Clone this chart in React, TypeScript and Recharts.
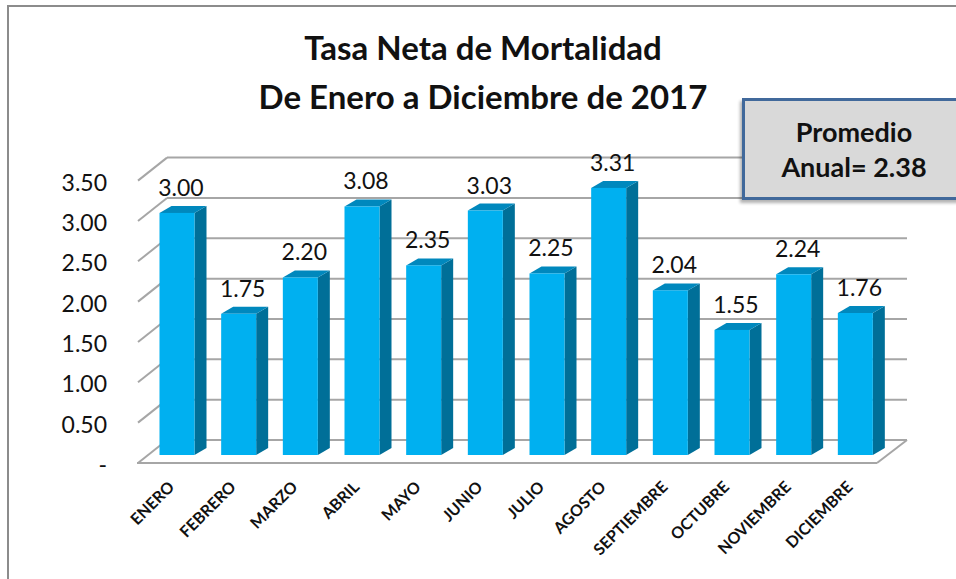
import React from "react";
import { Bar, BarChart, CartesianGrid, LabelList, XAxis, YAxis } from "recharts";

const months = [
  "ENERO", "FEBRERO", "MARZO", "ABRIL", "MAYO", "JUNIO",
  "JULIO", "AGOSTO", "SEPTIEMBRE", "OCTUBRE", "NOVIEMBRE", "DICIEMBRE",
];
const tasa = [3.0, 1.75, 2.2, 3.08, 2.35, 3.03, 2.25, 3.31, 2.04, 1.55, 2.24, 1.76];
const yTicks = [0, 0.5, 1, 1.5, 2, 2.5, 3, 3.5];
const titleLines = ["Tasa Neta de Mortalidad", "De Enero a Diciembre de 2017"];
const promedio = 2.38;

const data = months.map((mes, i) => ({ mes, tasa: tasa[i] }));

const FONT = "Lato, 'Open Sans', sans-serif";
const W = 956;
const H = 579;
const PLOT_BOTTOM = 455;

// fake 3d offsets
const BACK_DX = 20.5;
const BACK_DY = -15;
const FRONT_DX = -8.5;
const FRONT_DY = 8;
const DEPTH_X = 12;
const DEPTH_Y = -7;

const GRID = "#a6a6a6";

function Bar3D(props: any) {
  const { x, y, width, height } = props;
  if (height == null || width == null) return null;
  const r = x + width;
  const b = y + height;
  return (
    <g>
      <polygon
        points={`${r},${y} ${r + DEPTH_X},${y + DEPTH_Y} ${r + DEPTH_X},${b + DEPTH_Y} ${r},${b}`}
        fill="#006f98"
      />
      <polygon
        points={`${x},${y} ${x + DEPTH_X},${y + DEPTH_Y} ${r + DEPTH_X},${y + DEPTH_Y} ${r},${y}`}
        fill="#0088bd"
      />
      <rect x={x} y={y} width={width} height={height} fill="#00b0f0" />
    </g>
  );
}

function GridLine(props: any) {
  const { x1, x2, y1 } = props;
  const bx1 = x1 + BACK_DX;
  const bx2 = x2 + BACK_DX;
  const by = y1 + BACK_DY;
  const isFloor = Math.abs(y1 - PLOT_BOTTOM) < 1;
  return (
    <g key={props.key}>
      <line x1={bx1} y1={by} x2={bx2} y2={by} stroke={GRID} strokeWidth={2} />
      <line x1={bx1} y1={by} x2={x1 + FRONT_DX} y2={y1 + FRONT_DY} stroke={GRID} strokeWidth={2} />
      {isFloor && (
        <>
          <line
            x1={x1 + FRONT_DX - 1}
            y1={y1 + FRONT_DY}
            x2={x2 + FRONT_DX - 1}
            y2={y1 + FRONT_DY}
            stroke={GRID}
            strokeWidth={2}
          />
          <line
            x1={x2 + FRONT_DX - 1}
            y1={y1 + FRONT_DY}
            x2={bx2}
            y2={by}
            stroke={GRID}
            strokeWidth={2}
          />
        </>
      )}
    </g>
  );
}

function YTick(props: any) {
  const { y, payload } = props;
  const v = payload.value as number;
  return (
    <text
      x={107}
      y={y + 9}
      textAnchor="end"
      dominantBaseline="central"
      fontFamily={FONT}
      fontSize={23}
      fill="#111"
    >
      {v === 0 ? "-" : v.toFixed(2)}
    </text>
  );
}

function XTick(props: any) {
  const { x, payload } = props;
  const tx = x - 2;
  const ty = 488;
  return (
    <text
      x={tx}
      y={ty}
      textAnchor="end"
      transform={`rotate(-45 ${tx} ${ty})`}
      fontFamily={FONT}
      fontSize={16}
      fontWeight={700}
      fill="#111"
    >
      {payload.value}
    </text>
  );
}

function ValueLabel(props: any) {
  const { x, y, width, value } = props;
  return (
    <text
      x={x + width / 2 + 4}
      y={y - 26}
      textAnchor="middle"
      dominantBaseline="central"
      fontFamily={FONT}
      fontSize={23}
      fill="#111"
    >
      {Number(value).toFixed(2)}
    </text>
  );
}

export default function App() {
  return (
    <div
      style={{
        position: "absolute",
        left: 0,
        top: 0,
        width: W,
        height: H,
        overflow: "hidden",
        background: "#fff",
      }}
    >
      <div
        style={{
          position: "absolute",
          left: 7,
          top: 5,
          width: 1000,
          height: 700,
          border: "2px solid #8c8c8c",
        }}
      />
      <div
        style={{
          position: "absolute",
          left: 0,
          top: 23,
          width: 966,
          textAlign: "center",
          fontFamily: FONT,
          fontWeight: 700,
          fontSize: 33,
          lineHeight: "49px",
          color: "#111",
        }}
      >
        {titleLines.map((t) => (
          <div key={t}>{t}</div>
        ))}
      </div>
      <div style={{ position: "absolute", left: 0, top: 0 }}>
        <BarChart
          width={W}
          height={H}
          data={data}
          margin={{ top: 172.6, right: 69.5, bottom: 24, left: 46.5 }}
          barCategoryGap={0}
        >
          <CartesianGrid vertical={false} horizontal={(p: any) => <GridLine {...p} />} />
          <XAxis
            dataKey="mes"
            interval={0}
            height={100}
            axisLine={false}
            tickLine={false}
            tick={<XTick />}
          />
          <YAxis
            domain={[0, 3.5]}
            ticks={yTicks}
            width={100}
            axisLine={false}
            tickLine={false}
            tick={<YTick />}
          />
          <Bar dataKey="tasa" barSize={35} shape={<Bar3D />} isAnimationActive={false}>
            <LabelList dataKey="tasa" content={<ValueLabel />} />
          </Bar>
        </BarChart>
      </div>
      <div
        style={{
          position: "absolute",
          left: 742,
          top: 98,
          width: 224,
          height: 102,
          boxSizing: "border-box",
          background: "#d9d9d9",
          border: "3px solid #41699b",
          boxShadow: "-2px 3px 3px rgba(0,0,0,0.3)",
          display: "flex",
          flexDirection: "column",
          justifyContent: "center",
          alignItems: "center",
          fontFamily: FONT,
          fontWeight: 700,
          fontSize: 27,
          lineHeight: "35px",
          color: "#111",
        }}
      >
        <div>Promedio</div>
        <div>Anual= {promedio.toFixed(2)}</div>
      </div>
    </div>
  );
}
